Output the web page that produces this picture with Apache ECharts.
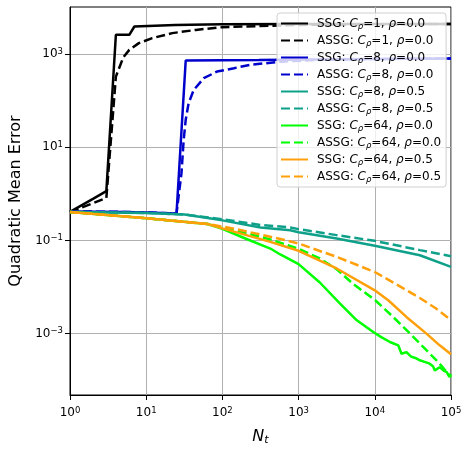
<!DOCTYPE html>
<html><head><meta charset="utf-8">
<script src="https://cdn.jsdelivr.net/npm/echarts@6/dist/echarts.min.js"></script>
<style>html,body{margin:0;padding:0;background:#fff}#c{width:471px;height:453px}</style>
</head><body><div id="c"></div>
<script>
// ---- tick values ----
const xTicks = [1, 10, 100, 1000, 10000, 100000];
const yTicks = [0.001, 0.1, 10, 1000];

// ---- series meta ----
const methods = ['SSG', 'ASSG', 'SSG', 'ASSG', 'SSG', 'ASSG', 'SSG', 'ASSG', 'SSG', 'ASSG'];
const cRho   = ['1', '1', '8', '8', '8', '8', '64', '64', '64', '64'];
const rhos   = ['0.0', '0.0', '0.0', '0.0', '0.5', '0.5', '0.0', '0.0', '0.5', '0.5'];
const colors = ['#000000', '#000000', '#0000cc', '#0000cc', '#0fa08a', '#0fa08a', '#00ff00', '#00ff00', '#ffa00a', '#ffa00a'];

// ---- series values (N_t, error) ----
const N_ssg_c1 = [1, 2, 3, 4, 6, 7, 24, 100, 1000, 100000];
const E_ssg_c1 = [0.41, 0.78, 1.15, 2600, 2600, 3930, 4250, 4400, 4440, 4460];

const N_assg_c1 = [1, 2, 3, 4, 5, 6, 8, 12, 22, 45, 100, 1000, 100000];
const E_assg_c1 = [0.41, 0.63, 0.82, 330, 850, 1237, 1725, 2210, 2830, 3320, 3800, 4250, 4450];

const N_ssg_c8 = [1, 5, 10, 25, 33, 300, 3000, 100000];
const E_ssg_c8 = [0.42, 0.41, 0.40, 0.38, 730, 745, 775, 810];

const N_assg_c8 = [1, 5, 10, 25, 29, 31, 33, 36, 42, 57, 85, 142, 233, 575, 2000, 10000, 100000];
const E_assg_c8 = [0.42, 0.41, 0.40, 0.38, 2.75, 14, 39, 88, 170, 305, 423, 500, 590, 690, 760, 790, 810];

const N_ssg_c8r = [1, 10, 32, 100, 316, 777, 1000, 3160, 10000, 39000, 100000];
const E_ssg_c8r = [0.41, 0.39, 0.36, 0.27, 0.19, 0.166, 0.15, 0.11, 0.077, 0.048, 0.027];

const N_assg_c8r = [1, 10, 32, 100, 316, 777, 1000, 3160, 10000, 39000, 100000];
const E_assg_c8r = [0.41, 0.39, 0.36, 0.285, 0.215, 0.19, 0.175, 0.13, 0.098, 0.062, 0.046];

const N_ssg_c64 = [1, 10, 64, 100, 200, 426, 575, 1000, 1900, 3500, 5800, 9550, 12000, 15800, 20300, 22400, 26000, 30000, 34000, 39000, 44000, 52500, 58000, 61200, 71000, 80000, 88000, 95000, 100000];
const E_ssg_c64 = [0.41, 0.3, 0.225, 0.178, 0.11, 0.067, 0.05, 0.031, 0.0125, 0.0044, 0.00193, 0.00108, 0.00085, 0.00066, 0.00056, 0.00037, 0.0004, 0.00032, 0.0003, 0.000267, 0.00025, 0.000226, 0.0002, 0.000162, 0.00019, 0.00016, 0.000149, 0.000117, 0.000135];

const N_assg_c64 = [1, 10, 64, 100, 200, 426, 700, 1000, 1900, 3160, 5250, 10000, 17400, 29000, 47600, 71000, 91000, 100000];
const E_assg_c64 = [0.41, 0.3, 0.225, 0.19, 0.145, 0.105, 0.08, 0.066, 0.041, 0.024, 0.0115, 0.0053, 0.00228, 0.001, 0.00044, 0.000226, 0.00014, 0.000115];

const N_ssg_c64r = [1, 10, 64, 100, 426, 1000, 3160, 10000, 15000, 26000, 47600, 71000, 100000];
const E_ssg_c64r = [0.41, 0.3, 0.225, 0.182, 0.093, 0.06, 0.025, 0.0085, 0.0052, 0.00228, 0.001, 0.00056, 0.00036];

const N_assg_c64r = [1, 10, 64, 127, 426, 700, 1000, 3160, 10000, 20000, 39000, 63000, 100000];
const E_assg_c64r = [0.41, 0.3, 0.225, 0.186, 0.12, 0.1, 0.086, 0.0444, 0.021, 0.011, 0.0058, 0.0035, 0.00195];

const seriesN = [N_ssg_c1, N_assg_c1, N_ssg_c8, N_assg_c8, N_ssg_c8r, N_assg_c8r, N_ssg_c64, N_assg_c64, N_ssg_c64r, N_assg_c64r];
const seriesE = [E_ssg_c1, E_assg_c1, E_ssg_c8, E_assg_c8, E_ssg_c8r, E_assg_c8r, E_ssg_c64, E_assg_c64, E_ssg_c64r, E_assg_c64r];

const FONT = 'DejaVu Sans';
const names = methods.map((m, i) => m + ': C\u03C1=' + cRho[i] + ', \u03C1=' + rhos[i]);
const nameIdx = {};
names.forEach((n, i) => { nameIdx[n] = i; });

function powLabel(v) {
  const e = Math.round(Math.log10(v));
  const s = e < 0 ? '\u2212' + (-e) : '' + e;
  return '{b|10}{s|' + s + '}';
}
const tickRich = {
  b: { fontSize: 12, fontFamily: FONT, color: '#000' },
  s: { fontSize: 8.5, fontFamily: FONT, color: '#000', lineHeight: 6, verticalAlign: 'top' }
};

const series = seriesN.map((ns, i) => ({
  name: names[i],
  type: 'line',
  data: ns.map((n, j) => [n, seriesE[i][j]]),
  showSymbol: false,
  symbol: 'none',
  color: colors[i],
  lineStyle: { width: 2.5, color: colors[i], type: methods[i] === 'ASSG' ? [9, 4] : 'solid' },
  animation: false,
  z: 2 + i * 0.01
}));

const chart = echarts.init(document.getElementById('c'), null, { renderer: 'canvas' });
chart.setOption({
  animation: false,
  backgroundColor: '#fff',
  grid: { left: 69, top: 7, width: 382, height: 388, show: true, borderColor: '#000', borderWidth: 1, backgroundColor: 'transparent' },
  xAxis: {
    type: 'log', logBase: 10, min: 1, max: 100000,
    name: '{i|N}{s|t}', nameLocation: 'middle', nameGap: 33,
    nameTextStyle: {
      lineHeight: 18,
      rich: {
        i: { fontSize: 16, fontStyle: 'italic', fontFamily: FONT, color: '#000' },
        s: { fontSize: 11, fontStyle: 'italic', fontFamily: FONT, color: '#000', lineHeight: 9, verticalAlign: 'bottom' }
      }
    },
    axisLine: { show: true, lineStyle: { color: '#000', width: 1 } },
    axisTick: { show: true, length: 5, lineStyle: { color: '#000', width: 1 }, customValues: xTicks },
    axisLabel: { margin: 11, formatter: powLabel, lineHeight: 14, rich: tickRich, customValues: xTicks },
    splitLine: { show: true, lineStyle: { color: '#b0b0b0', width: 1 } },
    minorTick: { show: false }
  },
  yAxis: {
    type: 'log', logBase: 10, min: 4.8e-5, max: 1.03e4,
    name: 'Quadratic Mean Error', nameLocation: 'middle', nameGap: 46,
    nameTextStyle: { fontSize: 16, fontFamily: FONT, color: '#000' },
    axisLine: { show: true, lineStyle: { color: '#000', width: 1 } },
    axisTick: { show: true, length: 5, lineStyle: { color: '#000', width: 1 }, customValues: yTicks },
    axisLabel: { margin: 7, formatter: powLabel, lineHeight: 14, rich: tickRich, customValues: yTicks },
    splitLine: { show: true, lineStyle: { color: '#b0b0b0', width: 1 } }
  },
  legend: {
    orient: 'vertical', left: 277, top: 13,
    data: names,
    itemWidth: 27, itemHeight: 14, itemGap: 2,
    padding: [3, 5, 3, 3],
    backgroundColor: 'rgba(255,255,255,0.8)',
    borderColor: '#d0d0d0', borderWidth: 1, borderRadius: 3,
    selectedMode: false,
    itemStyle: { color: 'rgba(0,0,0,0)', borderColor: 'rgba(0,0,0,0)', borderWidth: 0 },
    textStyle: {
      fontSize: 12, fontFamily: FONT, color: '#000', lineHeight: 15, padding: [0, 0, 0, 4],
      rich: {
        n: { fontSize: 12, fontFamily: FONT, color: '#000' },
        i: { fontSize: 12, fontFamily: FONT, fontStyle: 'italic', color: '#000' },
        s: { fontSize: 8.5, fontFamily: FONT, fontStyle: 'italic', color: '#000', lineHeight: 8, verticalAlign: 'bottom' }
      }
    },
    formatter: function (name) {
      const i = nameIdx[name];
      return '{n|' + methods[i] + ': }{i|C}{s|\u03C1}{n|=' + cRho[i] + ', }{i|\u03C1}{n|=' + rhos[i] + '}';
    }
  },
  series: series
});
</script>
</body></html>
